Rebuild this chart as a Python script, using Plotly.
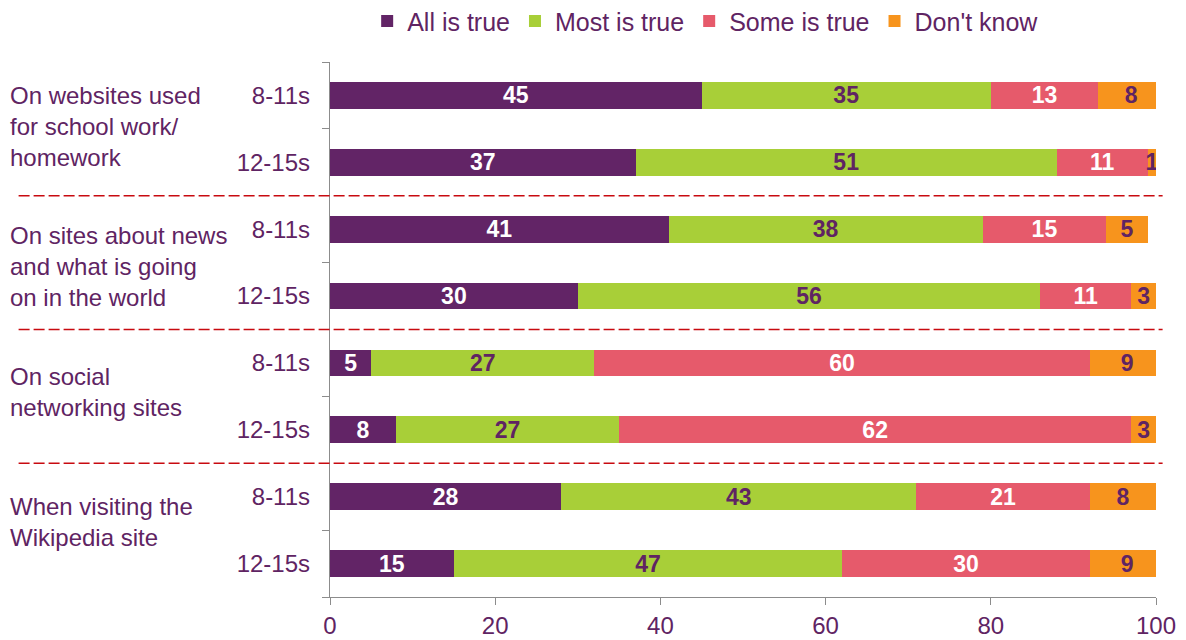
import plotly.graph_objects as go

# Survey responses: how much information is believed to be true, by site type and age
groups = [
    "On websites used<br>for school work/<br>homework",
    "On sites about news<br>and what is going<br>on in the world",
    "On social<br>networking sites",
    "When visiting the<br>Wikipedia site",
]
ages = ["8-11s", "12-15s"]
series = ["All is true", "Most is true", "Some is true", "Don't know"]

all_true = [45, 37, 41, 30, 5, 8, 28, 15]
most_true = [35, 51, 38, 56, 27, 27, 43, 47]
some_true = [13, 11, 15, 11, 60, 62, 21, 30]
dont_know = [8, 1, 5, 3, 9, 3, 8, 9]

colors = ["#622466", "#a8cf38", "#e65a6b", "#f7941d"]
label_colors = ["#ffffff", "#5f2463", "#ffffff", "#5f2463"]
TEXT = "#5f2463"
FONT = "Liberation Sans, Arial, sans-serif"

rows = list(range(len(all_true)))
row_labels = [ages[i % 2] for i in rows]

fig = go.Figure()
for name, vals, col, lcol in zip(series, [all_true, most_true, some_true, dont_know],
                                 colors, label_colors):
    fig.add_trace(go.Bar(
        y=rows, x=vals, name=name, orientation="h",
        marker=dict(color=col, line=dict(width=0)),
        width=0.4,
        text=vals, texttemplate="%{x}", textposition="inside", textangle=0,
        insidetextanchor="middle", constraintext="none",
        textfont=dict(color=lcol, size=23, family=FONT, weight="bold"),
        hoverinfo="skip",
    ))

# dashed separators between the site groups
for yb in [1.5, 3.5, 5.5]:
    fig.add_shape(type="line", xref="paper", yref="y",
                  x0=-0.377, x1=1.008, y0=yb, y1=yb,
                  line=dict(color="#c80a10", width=1.5, dash="11px,4px"))

# group labels on the left
group_y = [0.46, 2.56, 4.44, 6.38]
for txt, gy in zip(groups, group_y):
    fig.add_annotation(text=txt, xref="paper", yref="y", x=-0.39, y=gy,
                       xanchor="left", yanchor="middle", align="left",
                       showarrow=False,
                       font=dict(size=24, color=TEXT, family=FONT))

fig.update_layout(
    width=1186, height=640,
    margin=dict(l=330, r=30, t=62, b=43, autoexpand=False),
    barmode="stack",
    plot_bgcolor="white", paper_bgcolor="white",
    font=dict(family=FONT, color=TEXT, size=24),
    uniformtext=dict(mode="show", minsize=23),
    showlegend=True,
    legend=dict(orientation="h", x=0.045, xanchor="left", y=1.076,
                yanchor="middle", traceorder="normal",
                font=dict(size=25, color=TEXT, family=FONT),
                itemclick=False, itemdoubleclick=False),
    xaxis=dict(range=[0, 100], tickvals=[0, 20, 40, 60, 80, 100],
               showgrid=False, zeroline=False, automargin=False,
               showline=True, linecolor="#8c8c8c", linewidth=1.3,
               ticks="outside", ticklen=7, tickcolor="#8c8c8c",
               tickfont=dict(size=24, color=TEXT)),
    yaxis=dict(range=[7.5, -0.5], tickmode="array", tickvals=rows,
               ticktext=row_labels, showgrid=False, zeroline=False,
               automargin=False,
               showline=True, linecolor="#8c8c8c", linewidth=1.3,
               ticks="", ticklabelstandoff=14,
               tickfont=dict(size=24, color=TEXT),
               minor=dict(tickmode="array",
                          tickvals=[r - 0.5 for r in range(9)],
                          ticks="outside", ticklen=7, tickcolor="#8c8c8c",
                          showgrid=False)),
)

fig.write_html("out.html")
